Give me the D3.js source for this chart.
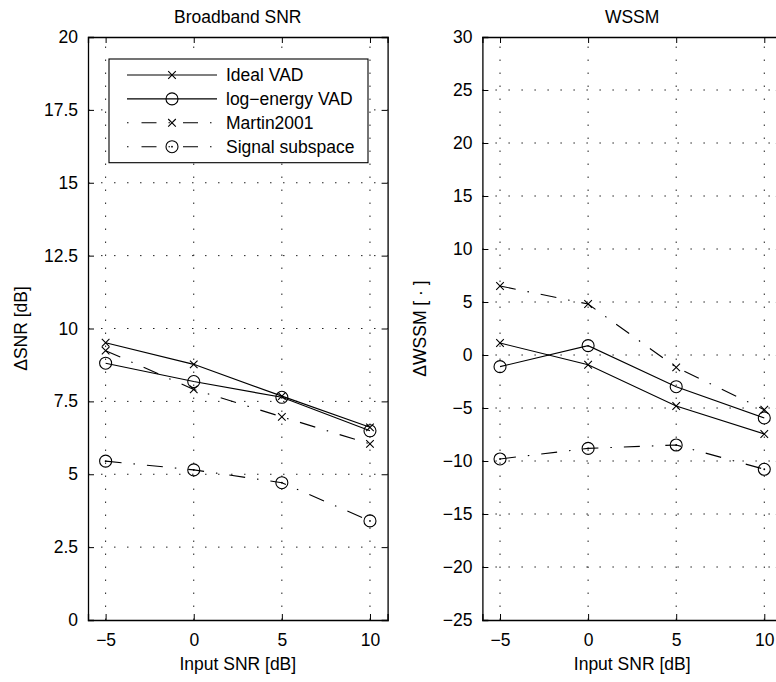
<!DOCTYPE html>
<html>
<head>
<meta charset="utf-8">
<script src="https://cdn.jsdelivr.net/npm/d3@7"></script>
<style>
  html, body { margin: 0; padding: 0; background: #fff; }
  svg { display: block; font-family: "Liberation Sans", Arial, Helvetica, sans-serif; }
</style>
</head>
<body>
<svg id="chart" width="776" height="682"></svg>
<script>
// Input SNR levels (x axis)
const inputSnr = [-5, 0, 5, 10];

// Broadband SNR improvement [dB]
const snrIdeal     = [9.51, 8.77, 7.68, 6.61];
const snrLogEnergy = [8.81, 8.18, 7.64, 6.49];
const snrMartin    = [9.24, 7.91, 6.97, 6.04];
const snrSubspace  = [5.45, 5.15, 4.71, 3.40];

// WSSM improvement [-]
const wssmIdeal     = [1.13, -0.92, -4.81, -7.45];
const wssmLogEnergy = [-1.10, 0.88, -2.99, -5.94];
const wssmMartin    = [6.51, 4.81, -1.17, -5.16];
const wssmSubspace  = [-9.81, -8.81, -8.49, -10.78];

// Method names and tick values
const methodNames = ["Ideal VAD", "log\u2212energy VAD", "Martin2001", "Signal subspace"];
const xTicks = [-5, 0, 5, 10];
const snrTicks = [0, 2.5, 5, 7.5, 10, 12.5, 15, 17.5, 20];
const wssmTicks = [-25, -20, -15, -10, -5, 0, 5, 10, 15, 20, 25, 30];

const FONT = 17.5;
const DASHDOT = "16,12,1.5,12";
const GRIDDOT = "1.5,11.5";

// line style / marker for each method
const styles = [
  { dash: null,    marker: "x" },
  { dash: null,    marker: "o" },
  { dash: DASHDOT, marker: "x" },
  { dash: DASHDOT, marker: "od" }
];

const svg = d3.select("#chart");

const fmt = v => {
  const s = String(v);
  return s.replace("-", "\u2212");
};

function drawMarker(g, type, cx, cy) {
  if (type === "x") {
    const s = 3.8;
    g.append("path")
      .attr("d", `M${cx - s},${cy - s}L${cx + s},${cy + s}M${cx - s},${cy + s}L${cx + s},${cy - s}`)
      .attr("stroke", "#000").attr("stroke-width", 1.1).attr("fill", "none");
  } else {
    g.append("circle").attr("cx", cx).attr("cy", cy).attr("r", 6)
      .attr("stroke", "#000").attr("stroke-width", 1.1).attr("fill", "none");
    if (type === "od") {
      g.append("circle").attr("cx", cx).attr("cy", cy).attr("r", 0.9).attr("fill", "#000");
    }
  }
}

function panel(opts) {
  const { left, right, top, bottom, yDomain, yTicks, series, title, yLabel, yLabelX, tickLabelRight } = opts;
  const x = d3.scaleLinear().domain([-6, 11]).range([left, right]);
  const y = d3.scaleLinear().domain(yDomain).range([bottom, top]);
  const g = svg.append("g");

  // dotted grid
  const grid = g.append("g").attr("stroke", "#222").attr("stroke-width", 1)
    .attr("stroke-dasharray", GRIDDOT).attr("fill", "none");
  xTicks.forEach(t => {
    grid.append("line").attr("x1", x(t)).attr("x2", x(t)).attr("y1", bottom).attr("y2", top);
  });
  yTicks.forEach(t => {
    if (t === yDomain[0] || t === yDomain[1]) return;
    grid.append("line").attr("x1", left).attr("x2", right).attr("y1", y(t)).attr("y2", y(t));
  });

  // data lines and markers
  const line = d3.line().x((d, i) => x(inputSnr[i])).y(d => y(d));
  series.forEach((vals, k) => {
    const st = styles[k];
    g.append("path").datum(vals).attr("d", line)
      .attr("fill", "none").attr("stroke", "#000").attr("stroke-width", 1.1)
      .attr("stroke-dasharray", st.dash);
    vals.forEach((v, i) => drawMarker(g, st.marker, x(inputSnr[i]), y(v)));
  });

  // axes: frame with inward ticks on all sides
  const axisG = g.append("g");
  const xb = d3.axisBottom(x).tickValues(xTicks).tickSize(-6).tickPadding(14).tickFormat(fmt);
  const xt = d3.axisTop(x).tickValues(xTicks).tickSize(-6).tickFormat("");
  const yl = d3.axisLeft(y).tickValues(yTicks).tickSize(-6).tickPadding(10).tickFormat(fmt);
  const yr = d3.axisRight(y).tickValues(yTicks).tickSize(-6).tickFormat("");
  [[xb, `translate(0,${bottom})`], [xt, `translate(0,${top})`],
   [yl, `translate(${left},0)`], [yr, `translate(${right},0)`]].forEach(([ax, tr]) => {
    const a = axisG.append("g").attr("transform", tr).call(ax);
    a.select(".domain").attr("stroke", "#000").attr("stroke-width", 1.3);
    a.selectAll(".tick line").attr("stroke", "#000").attr("stroke-width", 1);
    a.selectAll("text").attr("font-size", FONT).attr("fill", "#000")
      .attr("font-family", "Liberation Sans, Arial, sans-serif");
  });
  // y tick labels right-aligned to a fixed column
  axisG.selectAll("g").filter(function() { return false; });

  // title
  g.append("text").attr("x", (left + right) / 2).attr("y", top - 14)
    .attr("text-anchor", "middle").attr("font-size", FONT).text(title);
  // x label
  g.append("text").attr("x", (left + right) / 2).attr("y", 670)
    .attr("text-anchor", "middle").attr("font-size", FONT).text("Input SNR [dB]");
  // y label
  g.append("text").attr("transform", `translate(${yLabelX},${(top + bottom) / 2}) rotate(-90)`)
    .attr("text-anchor", "middle").attr("font-size", FONT).text(yLabel);

  return { x, y, g };
}

const TOP = 37, BOTTOM = 620;

const p1 = panel({
  left: 88, right: 387.6, top: TOP, bottom: BOTTOM,
  yDomain: [0, 20], yTicks: snrTicks,
  series: [snrIdeal, snrLogEnergy, snrMartin, snrSubspace],
  title: "Broadband SNR", yLabel: "\u0394SNR [dB]", yLabelX: 26.5
});

const p2 = panel({
  left: 482.4, right: 781.9, top: TOP, bottom: BOTTOM,
  yDomain: [-25, 30], yTicks: wssmTicks,
  series: [wssmIdeal, wssmLogEnergy, wssmMartin, wssmSubspace],
  title: "WSSM", yLabel: "\u0394WSSM [ \u00b7 ]", yLabelX: 425.5
});

// legend in the first panel
const leg = svg.append("g");
const LX0 = 109, LX1 = 368, LY0 = 59, ROW0 = 75, ROWH = 23.9;
leg.append("rect").attr("x", LX0).attr("y", LY0).attr("width", LX1 - LX0)
  .attr("height", ROW0 + ROWH * 3 + 16 - LY0)
  .attr("fill", "#fff").attr("stroke", "#000").attr("stroke-width", 1.1);
methodNames.forEach((name, k) => {
  const cy = ROW0 + k * ROWH;
  const st = styles[k];
  leg.append("line").attr("x1", 127).attr("x2", 217).attr("y1", cy).attr("y2", cy)
    .attr("stroke", "#000").attr("stroke-width", 1.1)
    .attr("stroke-dasharray", st.dash ? "1.5,13,15,12" : null);
  drawMarker(leg, st.marker, 172, cy);
  leg.append("text").attr("x", 226).attr("y", cy).attr("dy", "0.35em")
    .attr("font-size", FONT).text(name);
});
</script>
</body>
</html>
